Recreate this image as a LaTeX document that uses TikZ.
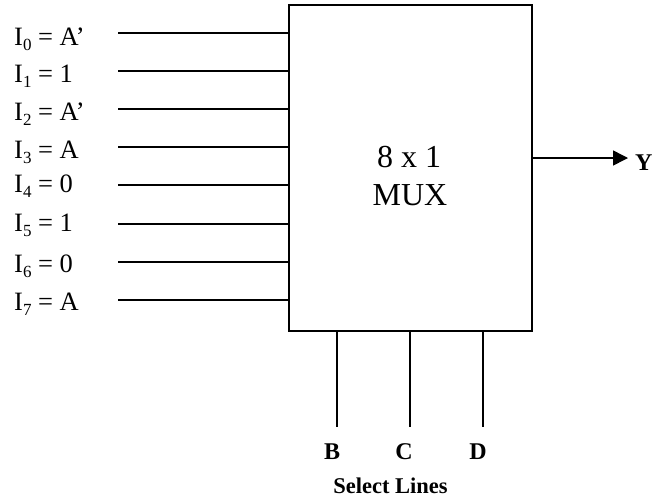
\documentclass[tikz,border=0pt]{standalone}
\usepackage{fontspec}
\setmainfont{Liberation Serif}
\usetikzlibrary{arrows.meta}
\newcommand{\isub}[1]{\raisebox{-0.22em}{\fontsize{17}{18}\selectfont #1}}
\tikzset{wire/.style={line width=1.5pt,black},
lab/.style={anchor=base west,inner sep=0pt,font=\fontsize{26.5}{30}\selectfont},
boldlab/.style={inner sep=0pt,anchor=base,font=\bfseries\fontsize{24}{28}\selectfont}}
\begin{document}
\begin{tikzpicture}[x=1pt,y=-1pt]
\useasboundingbox (0,0) rectangle (652,499);
\node[draw,line width=1.5pt,minimum width=243pt,minimum height=326pt,inner sep=0pt] (mux) at (410.5,168) {};
\node[anchor=base,inner sep=0pt,font=\fontsize{32}{38}\selectfont] (t1) at (409,167) {8 x 1};
\node[anchor=base,inner sep=0pt,font=\fontsize{32}{38}\selectfont] (t2) at (410,205) {MUX};
\foreach \n/\y/\ly/\s in {0/33/45/{I\isub{0} = A’},1/71/82/{I\isub{1} = 1},2/109/120/{I\isub{2} = A’},3/147/158/{I\isub{3} = A},4/185/192/{I\isub{4} = 0},5/224/231/{I\isub{5} = 1},6/262/272/{I\isub{6} = 0},7/300/310/{I\isub{7} = A}}{
  \node[lab] (l\n) at (14,\ly) {\s};
  \coordinate (s\n) at (118,\y);
  \draw[wire] (s\n) -- (s\n -| mux.west);
}
\coordinate (ya) at (628,158);
\draw[wire,-{Stealth[length=15pt,width=15pt,inset=0pt]}] (ya -| mux.east) -- (ya);
\node[boldlab,anchor=base west] (Y) at (635,170) {Y};
\foreach \x/\xe/\s in {337/332/B,410/404/C,483/478/D}{
  \coordinate (b\s) at (\x,427);
  \draw[wire] (b\s |- mux.south) -- (b\s);
  \node[boldlab] (n\s) at (\xe,459) {\s};
}
\node[anchor=base,inner sep=0pt,font=\bfseries\fontsize{22.5}{26}\selectfont] (sel) at (390.5,493) {Select Lines};
\end{tikzpicture}
\end{document}
